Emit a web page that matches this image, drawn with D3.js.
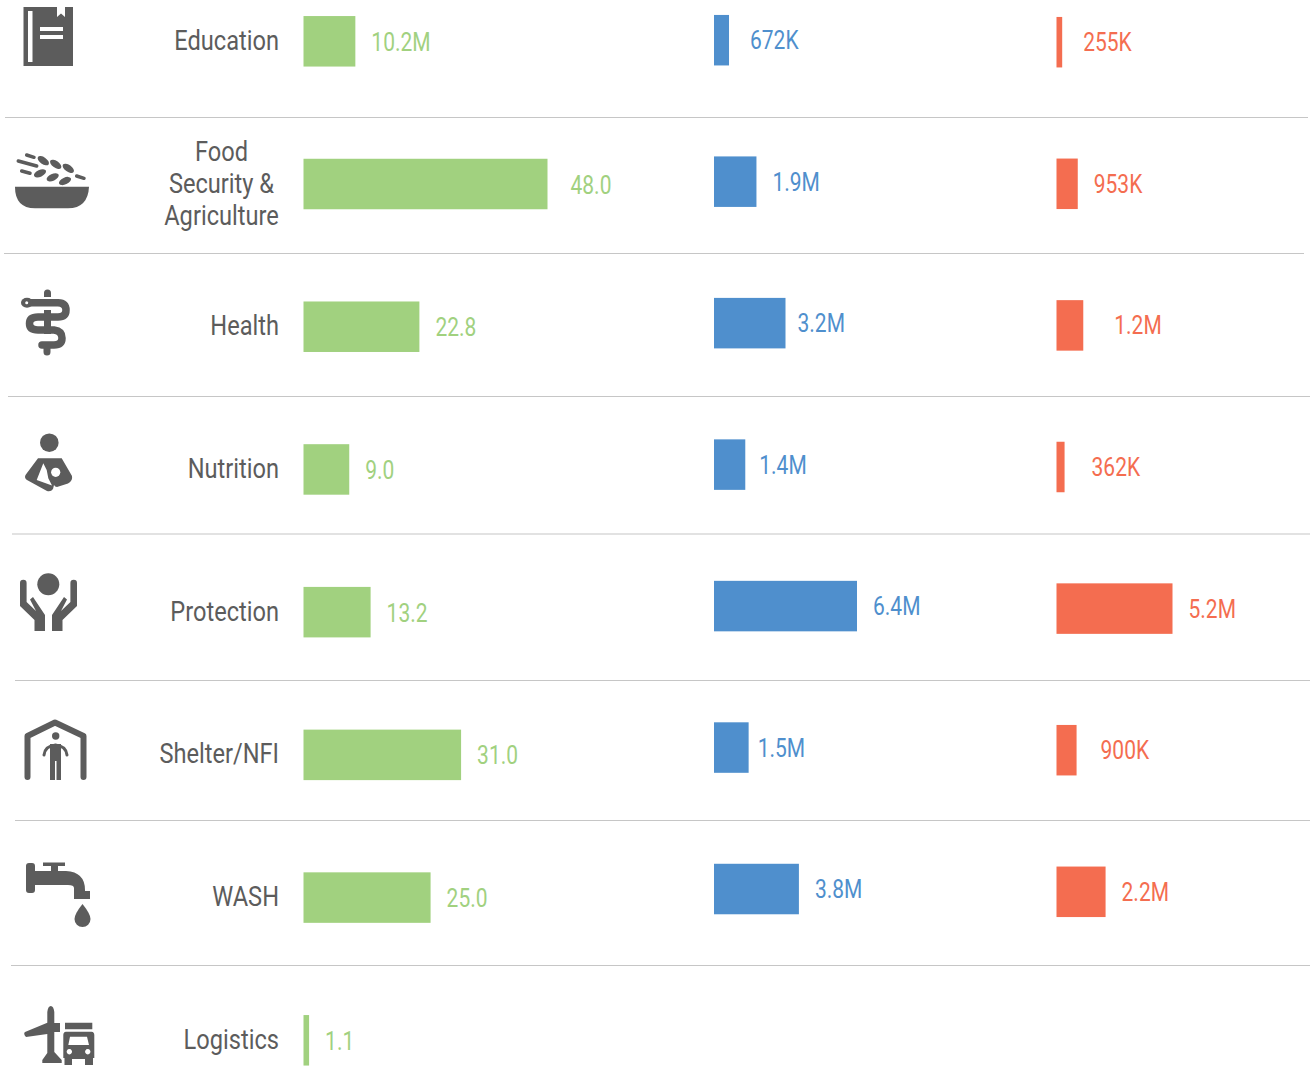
<!DOCTYPE html>
<html>
<head>
<meta charset="utf-8">
<script src="https://cdn.jsdelivr.net/npm/d3@7"></script>
<style>
  html, body { margin: 0; padding: 0; background: #fff; }
  svg { display: block; }
  text { font-family: Roboto, "Liberation Sans", sans-serif; }
</style>
</head>
<body>
<div id="chart"></div>
<script>
// chart values (three columns per sector)
var categories = ["Education", "Food Security & Agriculture", "Health", "Nutrition", "Protection", "Shelter/NFI", "WASH", "Logistics"];
var categoryLines = [["Education"], ["Food", "Security &", "Agriculture"], ["Health"], ["Nutrition"], ["Protection"], ["Shelter/NFI"], ["WASH"], ["Logistics"]];
var greenValues = [10.2, 48.0, 22.8, 9.0, 13.2, 31.0, 25.0, 1.1];
var greenLabels = ["10.2M", "48.0", "22.8", "9.0", "13.2", "31.0", "25.0", "1.1"];
var blueValues = [0.672, 1.9, 3.2, 1.4, 6.4, 1.55, 3.8];
var blueLabels = ["672K", "1.9M", "3.2M", "1.4M", "6.4M", "1.5M", "3.8M"];
var redValues = [0.255, 0.953, 1.2, 0.362, 5.2, 0.9, 2.2];
var redLabels = ["255K", "953K", "1.2M", "362K", "5.2M", "900K", "2.2M"];

var width = 1310, height = 1068;
var barHeight = 50.5;
var nameStretch = 0.875; // the original face is a condensed Roboto
var valueStretch = 0.84;

var svg = d3.select("#chart").append("svg")
  .attr("width", width)
  .attr("height", height);

// each column sits on a slightly different row pitch in the original
var yGreen = d3.scalePoint().domain(categories).range([41.3, 1040.3]);
var yBlue = d3.scalePoint().domain(categories).range([40.2, 1030.5]);
var yRed = d3.scalePoint().domain(categories).range([42.2, 1033.4]);

var xGreen = d3.scaleLinear().domain([0, 48]).range([303.5, 547.5]);
var xBlue = d3.scaleLinear().domain([0, 6.4]).range([714, 857]);
var xRed = d3.scaleLinear().domain([0, 5.2]).range([1056.5, 1172.5]);

// separators between the rows
var separators = [
  [5, 1308, 117.5], [4, 1304, 253.5], [8, 1310, 396.5], [12, 1310, 534],
  [15, 1310, 680.5], [15, 1310, 820.5], [11, 1310, 965.5]
];
svg.append("g").selectAll("line")
  .data(separators)
  .join("line")
  .attr("x1", function(d) { return d[0]; })
  .attr("x2", function(d) { return d[1]; })
  .attr("y1", function(d) { return d[2]; })
  .attr("y2", function(d) { return d[2]; })
  .attr("stroke", "#c6c6c6")
  .attr("stroke-width", 1.2);

// category labels
var labelGroups = svg.append("g").selectAll("g")
  .data(categories)
  .join("g");
labelGroups.each(function(name, i) {
  var lines = categoryLines[i];
  var many = lines.length > 1;
  lines.forEach(function(line, j) {
    var y = yGreen(name) + 8.5 + (j - (lines.length - 1) / 2) * 32;
    d3.select(this).append("text")
      .attr("transform", "translate(" + (many ? 221.5 : 279) + "," + y + ") scale(" + nameStretch + ",1)")
      .attr("text-anchor", many ? "middle" : "end")
      .attr("font-size", 27)
      .attr("fill", "#5c5c5c")
      .text(line);
  }, this);
});

function drawColumn(values, labels, x, y, color, gaps, labelDy) {
  var g = svg.append("g");
  values.forEach(function(v, i) {
    var cy = y(categories[i]);
    g.append("rect")
      .attr("x", x(0))
      .attr("y", cy - barHeight / 2)
      .attr("width", x(v) - x(0))
      .attr("height", barHeight)
      .attr("fill", color);
    g.append("text")
      .attr("transform", "translate(" + (x(v) + gaps[i]) + "," + (cy + labelDy) + ") scale(" + valueStretch + ",1)")
      .attr("font-size", 25)
      .attr("fill", color)
      .text(labels[i]);
  });
}

// gap between bar end and value label, it is not constant in the original
drawColumn(greenValues, greenLabels, xGreen, yGreen, "#a1d17f", [16, 23, 16, 16, 16, 16, 16, 16], 9.5);
drawColumn(blueValues, blueLabels, xBlue, yBlue, "#4f8fcd", [21, 16, 12, 14, 16, 9, 16], 9);
drawColumn(redValues, redLabels, xRed, yRed, "#f46d50", [21, 16, 31, 27, 16, 24, 16], 9);

// icons on the left
var iconColor = "#5c5c5c";
var icons = svg.append("g").attr("fill", iconColor);

// book
icons.append("path").attr("fill-rule", "evenodd")
  .attr("d", "M23.5 7H57V17L61 13.5L65 17V7H73V66H23.5ZM28 11V62H32.5V11ZM40 27V31H63V27ZM40 35V39H63V35Z");

// bowl with grain
icons.append("path").attr("d", "M15 186.7H89Q88 208 68 208.3H35Q15 208 15 186.7Z");
[[26.7, 155, 34, 157.3], [18.3, 161, 36.7, 166], [21.7, 171, 30, 173.3], [76.7, 176, 84, 178.3]].forEach(function(s) {
  icons.append("line").attr("x1", s[0]).attr("y1", s[1]).attr("x2", s[2]).attr("y2", s[3])
    .attr("stroke", iconColor).attr("stroke-width", 3.5).attr("stroke-linecap", "round");
});
[[43.3, 160.7, 35], [55.7, 164.3, 35], [68.3, 168.3, 35], [40, 173.3, -25], [52.7, 177.3, -25], [65, 181, -25]].forEach(function(e) {
  icons.append("ellipse").attr("rx", 6.5).attr("ry", 3.4)
    .attr("transform", "translate(" + e[0] + "," + e[1] + ") rotate(" + e[2] + ")");
});

// staff and snake
icons.append("path").attr("d", "M44 293a3.5 3.5 0 0 1 7 0V297H44ZM44 310H51V334H44ZM43.5 345H50.5V352a3.5 3.5 0 0 1 -7 0Z");
icons.append("path").attr("fill", "none").attr("stroke", iconColor).attr("stroke-width", 7.5).attr("stroke-linecap", "round")
  .attr("d", "M28 302.7H58Q66 303 66 310Q66 317 58 317H38Q29.5 317 29.5 323.5Q29.5 330 38 330H54Q62 331 62 338Q62 345 54 345H42");
icons.append("ellipse").attr("cx", 27).attr("cy", 302.7).attr("rx", 6).attr("ry", 5);
icons.append("circle").attr("cx", 26.7).attr("cy", 302.7).attr("r", 1.5).attr("fill", "#fff");

// mother and child
icons.append("circle").attr("cx", 49.3).attr("cy", 442.7).attr("r", 9.3);
icons.append("path").attr("d", "M38 458.3H61.7L72 476Q73 481 68 483.5L57 487Q55 487 54 485L53 489Q51 492 47 491L27 480Q24 478 25.5 475Z");
icons.append("path").attr("fill", "#fff").attr("d", "M43.3 463.3L36.7 480L52 485.5L48.3 478.3L46.7 470Z");
icons.append("circle").attr("cx", 55.7).attr("cy", 472.3).attr("r", 4.6).attr("fill", "#fff");

// protecting hands
icons.append("circle").attr("cx", 48.3).attr("cy", 584.3).attr("r", 11);
["M20 583a3.3 3.3 0 0 1 6.6 0V602L36 611L30 599.5L33 597L45 615V631H34.5V620L20 606Z"].forEach(function(d) {
  icons.append("path").attr("d", d);
  icons.append("path").attr("d", d).attr("transform", "translate(97,0) scale(-1,1)");
});

// shelter with person
icons.append("path").attr("fill", "none").attr("stroke", iconColor).attr("stroke-width", 6).attr("stroke-linecap", "round").attr("stroke-linejoin", "round")
  .attr("d", "M27.5 777V736L55 722.5L83.5 736V777");
icons.append("circle").attr("cx", 55.7).attr("cy", 736).attr("r", 3.7);
icons.append("path").attr("fill", "none").attr("stroke", iconColor).attr("stroke-width", 3).attr("stroke-linecap", "round")
  .attr("d", "M44 755Q45 746 55.5 745Q66 746 67 755");
icons.append("path").attr("d", "M50 744H61V780H56.5V761H55V780H50Z");

// tap and drop
icons.append("path").attr("d", "M26 866a3 3 0 0 1 3 -3H32a3 3 0 0 1 3 3V871H51V866H43V862.5H65V866H58V871H66Q85 872 85 890V891H90V899H74V891H74V888Q74 885 68 885H35V890a3 3 0 0 1 -3 3H29a3 3 0 0 1 -3 -3Z");
icons.append("path").attr("d", "M82.5 904Q74.5 914 74.5 919a8 8 0 0 0 16 0Q90.5 914 82.5 904Z");

// plane and truck
icons.append("path").attr("d", "M47.3 1012Q48 1006 50.8 1006Q53.6 1006 54.3 1012V1023H60V1032H54.3V1052L61.7 1060V1063H42.3V1060L47.3 1053V1034L26 1037Q23 1034 25 1032L47.3 1022.7Z");
icons.append("path").attr("fill-rule", "evenodd")
  .attr("d", "M65 1022.7H92.3V1029.3H65ZM66 1031.7H91.5Q94.3 1032 94.3 1035V1058H93V1065H85V1059H72V1065H64.5V1058H63.3V1035Q63.3 1032 66 1031.7ZM70 1036.7L68.3 1045H89L87 1036.7ZM69.3 1049a2.7 2.7 0 1 0 0.1 0ZM87.7 1049a2.7 2.7 0 1 0 0.1 0Z");
</script>
</body>
</html>
